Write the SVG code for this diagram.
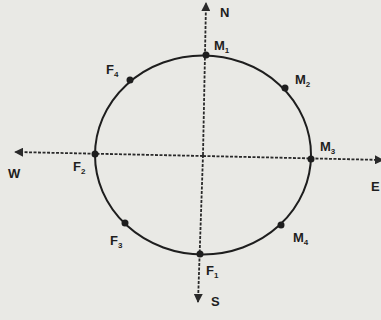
<svg xmlns="http://www.w3.org/2000/svg" width="381" height="320" viewBox="0 0 381 320">
<style>
.lbl{font-family:"Liberation Sans",Arial,sans-serif;font-weight:bold;font-size:13px;fill:#1e1e1e}
.sub{font-size:8px}
.ax{stroke:#2a2a2a;stroke-width:1.8;stroke-dasharray:3 1.5;fill:none}
.dot{fill:#1e1e1e}
</style>
<defs>
<marker id="ah" viewBox="0 0 10 10" refX="9" refY="5" markerWidth="5" markerHeight="5" orient="auto" markerUnits="strokeWidth">
<path d="M0,0 L10,5 L0,10 z" fill="#2a2a2a"/>
</marker>
</defs>
<rect width="381" height="320" fill="#e9e9e5"/>
<g id="connectors">
<line class="ax" x1="203" y1="155" x2="206" y2="3" marker-end="url(#ah)"/>
<line class="ax" x1="203" y1="155" x2="198" y2="302" marker-end="url(#ah)"/>
<line class="ax" x1="203" y1="156" x2="15" y2="152" marker-end="url(#ah)"/>
<line class="ax" x1="203" y1="156" x2="383" y2="160" marker-end="url(#ah)"/>
</g>
<g id="circle">
<ellipse cx="203" cy="155" rx="108" ry="99.5" fill="none" stroke="#1e1e1e" stroke-width="2"/>
</g>
<g id="N"><text class="lbl" x="220" y="17">N</text></g>
<g id="S"><text class="lbl" x="211" y="306">S</text></g>
<g id="W"><text class="lbl" x="8" y="178">W</text></g>
<g id="E"><text class="lbl" x="371" y="191">E</text></g>
<g id="M1"><circle class="dot" cx="206" cy="55" r="3.5"/><text class="lbl" x="214" y="50">M<tspan class="sub" dy="3">1</tspan></text></g>
<g id="M2"><circle class="dot" cx="285" cy="88" r="3.5"/><text class="lbl" x="295" y="84">M<tspan class="sub" dy="3">2</tspan></text></g>
<g id="M3"><circle class="dot" cx="311" cy="159" r="3.5"/><text class="lbl" x="320" y="151">M<tspan class="sub" dy="3">3</tspan></text></g>
<g id="M4"><circle class="dot" cx="281" cy="225" r="3.5"/><text class="lbl" x="293" y="242">M<tspan class="sub" dy="3">4</tspan></text></g>
<g id="F1"><circle class="dot" cx="200" cy="254" r="3.5"/><text class="lbl" x="206" y="275">F<tspan class="sub" dy="3">1</tspan></text></g>
<g id="F2"><circle class="dot" cx="95" cy="154" r="3.5"/><text class="lbl" x="73" y="171">F<tspan class="sub" dy="3">2</tspan></text></g>
<g id="F3"><circle class="dot" cx="125" cy="223" r="3.5"/><text class="lbl" x="110" y="245">F<tspan class="sub" dy="3">3</tspan></text></g>
<g id="F4"><circle class="dot" cx="130" cy="80" r="3.5"/><text class="lbl" x="106" y="74">F<tspan class="sub" dy="3">4</tspan></text></g>
</svg>
